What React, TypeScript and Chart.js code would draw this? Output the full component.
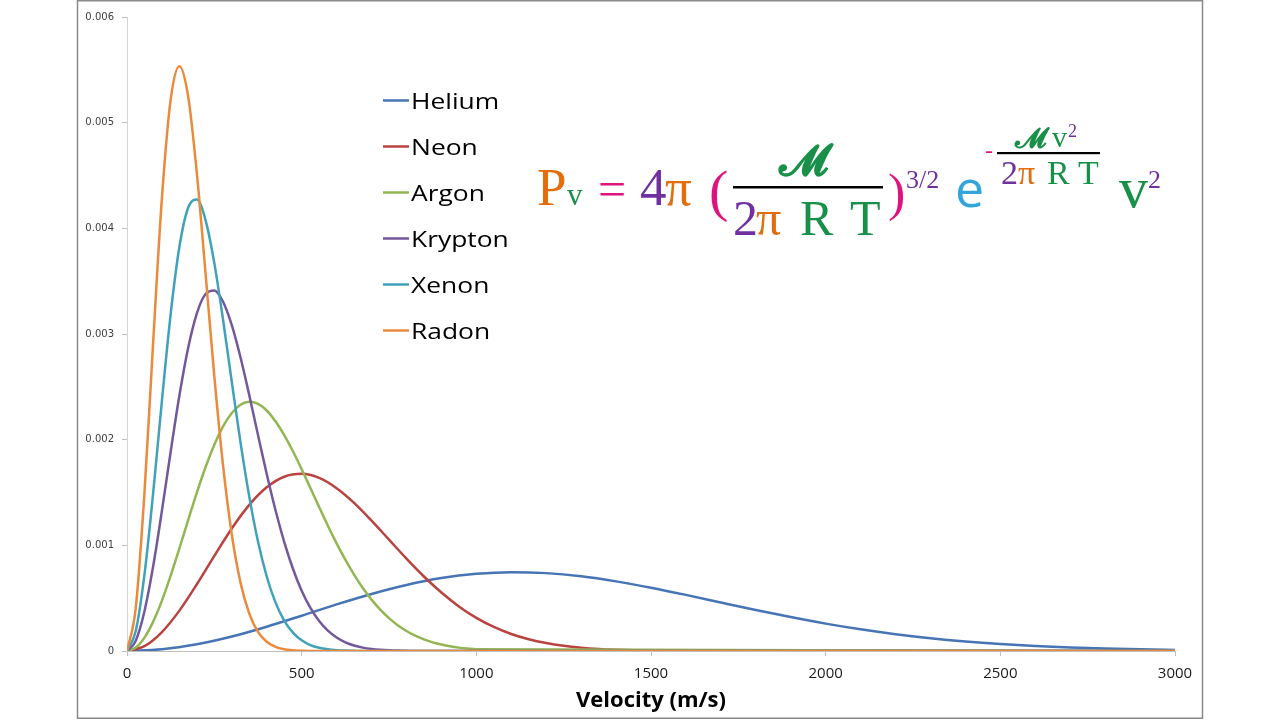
import { useEffect, useRef } from 'react';
import { Chart, registerables } from 'chart.js';

Chart.register(...registerables);

// ---- data ----
const gasNames = ['Helium', 'Neon', 'Argon', 'Krypton', 'Xenon', 'Radon'];
const gasColors = ['#4674B4', '#B8433F', '#93B653', '#73589C', '#40A2BA', '#E98A3C'];

const heliumVelocity = [0, 100, 200, 300, 400, 500, 600, 700, 800, 900, 1000, 1100, 1200, 1300, 1400, 1500,
  1600, 1700, 1800, 1900, 2000, 2100, 2200, 2300, 2400, 2500, 2600, 2700, 2800, 2900, 3000];
const heliumProb = [0, 0.0000162, 0.0000634, 0.000137, 0.00023, 0.000334, 0.000441, 0.00054, 0.000625, 0.00069,
  0.00073, 0.000746, 0.000737, 0.000707, 0.000659, 0.000599, 0.000531, 0.000459, 0.000388, 0.000321, 0.000259,
  0.000205, 0.000159, 0.000121, 0.0000902, 0.0000659, 0.0000472, 0.0000332, 0.0000229, 0.0000155, 0.0000103];

const neonVelocity = [0, 50, 100, 150, 200, 250, 300, 350, 400, 450, 500, 550, 600, 650, 700, 750, 800, 850, 900,
  950, 1000, 1050, 1100, 1150, 1200, 1250, 1300, 1350, 1400, 1450, 1500, 1550, 1600, 3000];
const neonProb = [0, 0.000046, 0.000179, 0.000382, 0.000632, 0.000901, 0.00116, 0.001383, 0.001549, 0.001649,
  0.001677, 0.001638, 0.001541, 0.001402, 0.001234, 0.001054, 0.000874, 0.000705, 0.000553, 0.000422, 0.000314,
  0.000228, 0.000161, 0.000111, 0.0000751, 0.0000495, 0.0000318, 0.0000199, 0.0000123, 0.0000074, 0.0000043,
  0.0000024, 0.0000014, 0];

const fineVelocity = [0, 25, 50, 75, 100, 125, 150, 175, 200, 225, 250, 275, 300, 325, 350, 375, 400, 425, 450,
  475, 500, 525, 550, 575, 600, 625, 650, 675, 700, 725, 750, 775, 800, 825, 850, 875, 900, 925, 950, 975, 1000, 3000];
const argonProb = [0, 0.0000322, 0.000127, 0.000278, 0.000477, 0.000713, 0.000971, 0.001238, 0.001499, 0.001741,
  0.001953, 0.002125, 0.002252, 0.00233, 0.002358, 0.002339, 0.002276, 0.002175, 0.002044, 0.00189, 0.00172,
  0.001542, 0.001362, 0.001186, 0.001019, 0.000864, 0.000723, 0.000596, 0.000486, 0.000391, 0.000311, 0.000244,
  0.000189, 0.000145, 0.00011, 0.0000821, 0.0000607, 0.0000443, 0.000032, 0.0000229, 0.0000162, 0];
const kryptonProb = [0, 0.0000973, 0.000377, 0.000804, 0.001328, 0.001886, 0.002418, 0.002868, 0.003196, 0.003378,
  0.003411, 0.003305, 0.003083, 0.002777, 0.002421, 0.002044, 0.001675, 0.001334, 0.001033, 0.000778, 0.00057,
  0.000407, 0.000283, 0.000192, 0.000127, 0.0000823, 0.0000519, 0.000032, 0.0000192, 0.0000113, 0.0000065,
  0.0000036, 0.000002, 0, 0, 0, 0, 0, 0, 0, 0, 0];
const xenonProb = [0, 0.00019, 0.000723, 0.001498, 0.00237, 0.003189, 0.003825, 0.004195, 0.004272, 0.004076,
  0.003671, 0.003134, 0.002546, 0.001972, 0.001461, 0.001036, 0.000705, 0.00046, 0.000288, 0.000174, 0.000101,
  0.0000561, 0.0000302, 0.0000156, 0.0000078, 0.0000037, 0.0000017, 0, 0, 0, 0, 0, 0, 0, 0, 0, 0, 0, 0, 0, 0, 0];
const radonProb = [0, 0.000406, 0.001496, 0.002929, 0.004288, 0.005218, 0.005535, 0.005251, 0.004521, 0.003568,
  0.002599, 0.001755, 0.001102, 0.000646, 0.000354, 0.000181, 0.0000873, 0.0000394, 0.0000167, 0.0000067,
  0.0000025, 0, 0, 0, 0, 0, 0, 0, 0, 0, 0, 0, 0, 0, 0, 0, 0, 0, 0, 0, 0, 0];

const xTickStep = 500;
const yTickStep = 0.001;
const xTitle = 'Velocity (m/s)';

const seriesVelocity = [heliumVelocity, neonVelocity, fineVelocity, fineVelocity, fineVelocity, fineVelocity];
const seriesProb = [heliumProb, neonProb, argonProb, kryptonProb, xenonProb, radonProb];

// formula colours
const C_OR = '#E46C0A';
const C_GR = '#18904A';
const C_PU = '#7030A0';
const C_MA = '#E0127E';
const C_CY = '#32A6DA';
const SERIF = '"Liberation Serif", "DejaVu Serif", serif';
const SCRIPT = '"DejaVu Serif", "DejaVu Sans", "Liberation Serif", serif';

type Piece = { t: string; x: number; y: number; s: number; c: string; f?: string; w?: string; st?: string };

const formulaPieces: Piece[] = [
  { t: 'P', x: 537, y: 205, s: 53, c: C_OR },
  { t: 'v', x: 567, y: 205, s: 31, c: C_GR },
  { t: '=', x: 598, y: 206, s: 50, c: C_MA },
  { t: '4', x: 640, y: 205, s: 53, c: C_PU },
  { t: 'π', x: 665, y: 205, s: 53, c: C_OR },
  { t: '(', x: 709, y: 210, s: 58, c: C_MA },
  { t: '𝓜', x: 779, y: 175, s: 44, c: C_GR, f: SCRIPT, w: 'bold' },
  { t: '2', x: 733, y: 235, s: 50, c: C_PU },
  { t: 'π', x: 756, y: 235, s: 50, c: C_OR },
  { t: 'R', x: 800, y: 235, s: 50, c: C_GR },
  { t: 'T', x: 850, y: 235, s: 50, c: C_GR },
  { t: ')', x: 888, y: 210, s: 52, c: C_MA },
  { t: '3/2', x: 906, y: 188, s: 26, c: C_PU },
  { t: 'e', x: 955, y: 207, s: 52, c: C_CY, f: '"Open Sans", sans-serif' },
  { t: '-', x: 985, y: 158, s: 24, c: C_MA },
  { t: '𝓜', x: 1015, y: 147, s: 28, c: C_GR, f: SCRIPT, w: 'bold' },
  { t: 'v', x: 1052, y: 147, s: 30, c: C_GR },
  { t: '2', x: 1068, y: 137, s: 18, c: C_PU },
  { t: '2', x: 1001, y: 184, s: 34, c: C_PU },
  { t: 'π', x: 1018, y: 184, s: 34, c: C_OR },
  { t: 'R', x: 1047, y: 184, s: 34, c: C_GR },
  { t: 'T', x: 1078, y: 184, s: 34, c: C_GR },
  { t: 'v', x: 1119, y: 207, s: 58, c: C_GR },
  { t: '2', x: 1148, y: 188, s: 26, c: C_PU },
];

const decorPlugin = {
  id: 'decor',
  beforeDraw(chart: any) {
    const ctx = chart.ctx as CanvasRenderingContext2D;
    ctx.save();
    ctx.fillStyle = '#ffffff';
    ctx.fillRect(0, 0, chart.width, chart.height);
    ctx.strokeStyle = '#8a8a8a';
    ctx.lineWidth = 1.5;
    ctx.strokeRect(77.5, 0.75, 1125, 717.5);
    ctx.restore();
  },
  afterDraw(chart: any) {
    const ctx = chart.ctx as CanvasRenderingContext2D;
    ctx.save();
    // legend
    chart.data.datasets.forEach((ds: any, i: number) => {
      const base = 109 + i * 46;
      ctx.strokeStyle = ds.borderColor;
      ctx.lineWidth = 2.5;
      ctx.beginPath();
      ctx.moveTo(383, base - 8.5);
      ctx.lineTo(409, base - 8.5);
      ctx.stroke();
      ctx.save();
      ctx.translate(411, base);
      ctx.scale(1.2, 1);
      ctx.fillStyle = '#000000';
      ctx.font = '22px "Open Sans", sans-serif';
      ctx.textBaseline = 'alphabetic';
      ctx.textAlign = 'left';
      ctx.fillText(ds.label, 0, 0);
      ctx.restore();
    });
    // formula
    ctx.textBaseline = 'alphabetic';
    ctx.textAlign = 'left';
    for (const p of formulaPieces) {
      ctx.fillStyle = p.c;
      ctx.font = `${p.st || 'normal'} ${p.w || 'normal'} ${p.s}px ${p.f || SERIF}`;
      ctx.fillText(p.t, p.x, p.y);
    }
    ctx.fillStyle = '#000000';
    ctx.fillRect(733, 186, 150, 2.5);
    ctx.fillRect(997, 152, 103, 2.2);
    ctx.restore();
  },
};

export default function App() {
  const ref = useRef<HTMLCanvasElement>(null);
  useEffect(() => {
    const datasets = gasNames.map((name, i) => ({
      label: name,
      data: seriesVelocity[i].map((v, j) => ({ x: v, y: seriesProb[i][j] })),
      borderColor: gasColors[i],
      backgroundColor: gasColors[i],
      borderWidth: 2.5,
      pointRadius: 0,
      fill: false,
      cubicInterpolationMode: 'monotone' as const,
      order: gasNames.length - 1 - i,
    }));
    const chart = new Chart(ref.current!, {
      type: 'line',
      data: { datasets },
      options: {
        animation: false,
        responsive: false,
        maintainAspectRatio: false,
        layout: { padding: { left: 78, right: 105, top: 17, bottom: 0 } },
        plugins: { legend: { display: false }, tooltip: { enabled: false } },
        scales: {
          x: {
            type: 'linear',
            min: 0,
            max: 3000,
            ticks: {
              stepSize: xTickStep,
              maxRotation: 0,
              padding: 9,
              color: '#1a1a1a',
              font: { family: '"Open Sans", sans-serif', size: 15 },
              callback: (v: any) => String(Number(v)),
            },
            grid: { drawOnChartArea: false, drawTicks: true, tickLength: 5, color: '#bfbfbf' },
            border: { display: true, color: '#bfbfbf', width: 1 },
            title: {
              display: true,
              text: xTitle,
              color: '#000000',
              font: { family: '"Open Sans", sans-serif', size: 22, weight: 'bold' },
              padding: { top: 0, bottom: 6 },
            },
            afterFit: (s: any) => { s.height = 69; },
          },
          y: {
            type: 'linear',
            min: 0,
            max: 0.006,
            ticks: {
              stepSize: yTickStep,
              padding: 8,
              color: '#404040',
              font: { family: '"DejaVu Sans", sans-serif', size: 10 },
              callback: (v: any) => (Number(v) === 0 ? '0' : Number(v).toFixed(3)),
            },
            grid: { drawOnChartArea: false, drawTicks: true, tickLength: 5, color: '#bfbfbf' },
            border: { display: true, color: '#d4d4d4', width: 1 },
            afterFit: (s: any) => { s.width = 49; },
          },
        },
      },
      plugins: [decorPlugin],
    } as any);
    return () => chart.destroy();
  }, []);
  return (
    <div style={{ position: 'fixed', left: 0, top: 0, width: 1280, height: 720, background: '#ffffff' }}>
      <canvas ref={ref} width={1280} height={720} style={{ display: 'block', width: 1280, height: 720 }} />
    </div>
  );
}
